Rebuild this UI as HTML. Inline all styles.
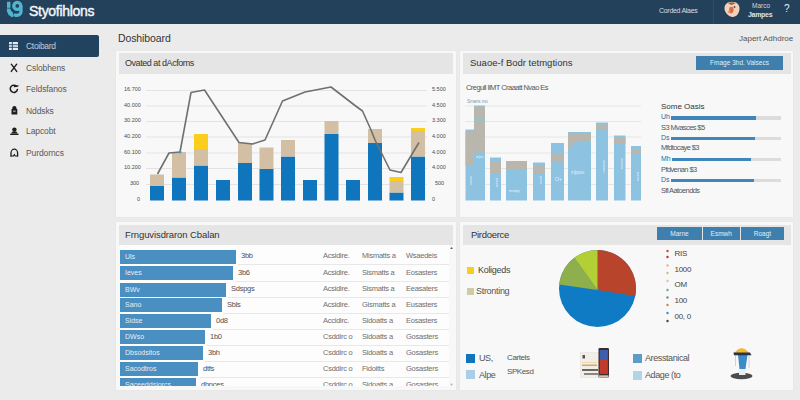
<!DOCTYPE html>
<html><head><meta charset="utf-8">
<style>
*{margin:0;padding:0;box-sizing:border-box}
html,body{width:800px;height:400px;overflow:hidden;background:#ebebeb;font-family:"Liberation Sans",sans-serif;color:#333}
.abs{position:absolute}
.t{position:absolute;white-space:nowrap;line-height:1}
.btn{position:absolute;background:#3f7fae;color:#e4edf5;font-size:6.5px;text-align:center;white-space:nowrap}
svg{position:absolute;left:0;top:0}
</style></head><body>
<div class="abs" style="left:0px;top:0px;width:800px;height:24px;background:#24415c;"></div>
<svg style="filter:blur(0.35px)" width="30" height="24" viewBox="0 0 30 24"><g fill="#50b5d0"><rect x="7" y="1.800" width="3.400" height="6"/><path d="M6.800 8.600L10.200 8.600L11.200 11L13 12.500L13.200 16.800L11.800 17.300L8.500 14.800L7 11.500z"/></g><g fill="none" stroke="#50b5d0" stroke-width="3.300" stroke-linecap="round"><circle cx="17.300" cy="5.900" r="3.500"/><path d="M21 6.500L21 11.500C21 14.500 18.500 15.800 15 15.200"/></g></svg>
<div class="t" style="left:29px;top:4px;font-size:14px;color:#f4f7fa;letter-spacing:-0.3px;-webkit-text-stroke:0.4px #f4f7fa">Styofihlons</div>
<div class="t" style="left:659px;top:7px;font-size:7px;color:#d5dde5;letter-spacing:-0.3px">Corded Alaes</div>
<div class="abs" style="left:713px;top:0px;width:1px;height:24px;background:#2e4c68;"></div>
<svg style="left:722px;filter:blur(0.4px)" width="20" height="20" viewBox="0 0 20 20"><path d="M10 1.700C14.500 1.700 17.800 4.500 17.500 9C17.200 13.500 14 17.200 10.500 17C7 16.800 3.200 13.500 2.500 9C2 4.500 5.500 1.700 10 1.700z" fill="#f1d2bb"/><path d="M6 3.500C8 1.800 12 1.800 13.500 3.500C12 3.200 11 5 9.500 5C8 5 7.500 3.500 6 3.500z" fill="#9a6a4a"/><path d="M7.500 7.500C9 6 11 6.500 11.500 8.500C12 11 10.500 13.500 9 13.500C7.500 13.500 6.500 10 7.500 7.500z" fill="#dd6a4a"/><circle cx="12.500" cy="7" r="1" fill="#7a4a35"/><circle cx="7" cy="12" r="1.200" fill="#e79a7a"/></svg>
<div class="t" style="left:752px;top:2.5px;font-size:6.5px;color:#cdd6de;">Marco</div>
<div class="t" style="left:748px;top:10.5px;font-size:7px;color:#dfe6ec;font-weight:bold;letter-spacing:-0.3px">Jampes</div>
<div class="t" style="left:784px;top:4px;font-size:10px;color:#e8eef3;">?</div>
<div class="abs" style="left:0px;top:34.5px;width:98.5px;height:22px;background:#22435f;border-radius:0 2px 2px 0"></div>
<svg style="left:9px;top:41.500px" width="9" height="8" viewBox="0 0 9 8"><rect width="9" height="8" rx="0.500" fill="#e8edf1"/><path d="M0 2.700h9M0 5.300h9M3.300 0v8" stroke="#22435f" stroke-width="0.900"/></svg>
<div class="t" style="left:26px;top:42px;font-size:8.5px;color:#c3ced8;letter-spacing:-0.3px">Ctoibard</div>
<div class="t" style="left:26px;top:64px;font-size:8.5px;color:#585858;letter-spacing:-0.1px">Cslobhens</div>
<div class="t" style="left:26px;top:85px;font-size:8.5px;color:#585858;letter-spacing:-0.1px">Feldsfanos</div>
<div class="t" style="left:26px;top:106.5px;font-size:8.5px;color:#585858;letter-spacing:-0.1px">Nddsks</div>
<div class="t" style="left:26px;top:127px;font-size:8.5px;color:#585858;letter-spacing:-0.1px">Lapcobt</div>
<div class="t" style="left:26px;top:148.5px;font-size:8.5px;color:#585858;letter-spacing:-0.1px">Purdorncs</div>
<svg style="filter:blur(0.3px)" width="30" height="170" viewBox="0 0 30 170">
 <g fill="none" stroke="#1e1e1e" stroke-width="1.400" stroke-linecap="round">
  <path d="M11.300 64.200L16.700 71.400M16.700 64.200L11.300 71.400"/>
  <path d="M16.500 86.300A3.600 3.600 0 1 0 17.400 89.500" stroke-width="1.500"/>
  <path d="M14.500 86.500L18 85.800" stroke-width="1.300"/>
  <path d="M11 156V153A3.300 3.800 0 0 1 17.600 153V156" stroke-width="1.300"/>
  <path d="M11 156H13.500L14.300 154.500L15.200 156H17.600" stroke-width="1.100"/>
 </g>
 <g fill="#1e1e1e">
  <path d="M12.300 109V108A2.100 2.100 0 0 1 16.500 108V109H17.300V114.500H11.500V109z"/>
  <circle cx="14.400" cy="129.600" r="2.200"/>
  <path d="M11.500 133.500Q11.500 131.300 14.400 131.300Q17.300 131.300 17.300 133.500z"/>
  <rect x="10.200" y="133.600" width="8.300" height="1.400"/>
 </g>
 <rect x="13.200" y="110.500" width="2.400" height="1.600" fill="#999"/>
</svg>
<div class="t" style="left:118px;top:33px;font-size:10.5px;color:#333;letter-spacing:-0.1px">Doshiboard</div>
<div class="t" style="left:739px;top:35px;font-size:8px;color:#555;">Japert Adhdroe</div>
<div class="abs" style="left:116px;top:51px;width:339.5px;height:165.5px;background:#f8f8f8;box-shadow:0 0 1px #dcdcdc"></div>
<div class="abs" style="left:118.5px;top:53px;width:334.5px;height:20.5px;background:#e5e5e5;"></div>
<div class="abs" style="left:459.5px;top:51px;width:333.5px;height:165.5px;background:#f8f8f8;box-shadow:0 0 1px #dcdcdc"></div>
<div class="abs" style="left:463px;top:53px;width:328px;height:20.5px;background:#e5e5e5;"></div>
<div class="abs" style="left:116px;top:222px;width:340px;height:168px;background:#f8f8f8;box-shadow:0 0 1px #dcdcdc"></div>
<div class="abs" style="left:118.5px;top:224.5px;width:334.5px;height:20.5px;background:#e5e5e5;"></div>
<div class="abs" style="left:459.5px;top:222px;width:333.5px;height:167.5px;background:#f8f8f8;box-shadow:0 0 1px #dcdcdc"></div>
<div class="abs" style="left:463px;top:224.5px;width:328px;height:20.5px;background:#e5e5e5;"></div>
<div class="t" style="left:125px;top:59px;font-size:9px;color:#333;letter-spacing:-0.45px">Ovated at dAcfoms</div>
<svg width="800" height="400" viewBox="0 0 800 400">
<path d="M146 90.5H427M146 106H427M146 121.5H427M146 137H427M146 153H427M146 168.5H427M146 184.5H427" stroke="#e3e3e3" stroke-width="1"/>
<rect x="150" y="186" width="14" height="14.5" fill="#0f75bc"/>
<rect x="150" y="174.5" width="14" height="11.5" fill="#d3bfa3"/>
<rect x="172" y="177.5" width="14" height="23.0" fill="#0f75bc"/>
<rect x="172" y="152" width="14" height="25.5" fill="#d3bfa3"/>
<rect x="194" y="165.5" width="14" height="35.0" fill="#0f75bc"/>
<rect x="194" y="149" width="14" height="16.5" fill="#d3bfa3"/>
<rect x="194" y="134" width="14" height="15" fill="#fbcd1c"/>
<rect x="216" y="180" width="14" height="20.5" fill="#0f75bc"/>
<rect x="238" y="163" width="14" height="37.5" fill="#0f75bc"/>
<rect x="238" y="143" width="14" height="20" fill="#d3bfa3"/>
<rect x="259.5" y="169" width="14" height="31.5" fill="#0f75bc"/>
<rect x="259.5" y="147.5" width="14" height="21.5" fill="#d3bfa3"/>
<rect x="281" y="156.5" width="14" height="44.0" fill="#0f75bc"/>
<rect x="281" y="140" width="14" height="16.5" fill="#d3bfa3"/>
<rect x="303" y="180" width="14" height="20.5" fill="#0f75bc"/>
<rect x="324.5" y="134" width="14" height="66.5" fill="#0f75bc"/>
<rect x="324.5" y="121" width="14" height="13" fill="#d3bfa3"/>
<rect x="346" y="180" width="14" height="20.5" fill="#0f75bc"/>
<rect x="368" y="143" width="14" height="57.5" fill="#0f75bc"/>
<rect x="368" y="129" width="14" height="14" fill="#d3bfa3"/>
<rect x="389.5" y="192.5" width="14" height="8.0" fill="#0f75bc"/>
<rect x="389.5" y="181" width="14" height="11.5" fill="#d3bfa3"/>
<rect x="389.5" y="177" width="14" height="4" fill="#fbcd1c"/>
<rect x="411" y="156.5" width="14" height="44.0" fill="#0f75bc"/>
<rect x="411" y="131" width="14" height="25.5" fill="#d3bfa3"/>
<rect x="411" y="128" width="14" height="3" fill="#fbcd1c"/>
<path d="M157.500 174L169 153L180 152L191 92.500L204.500 90L239 142.500L252.500 144L265 140L282.500 101L305 92L331 87L355 105.500L362.500 111L371 130L375 140L390 170L401 172.500L419 142.500" fill="none" stroke="#707070" stroke-width="1.600" stroke-linejoin="round"/>
<circle cx="180" cy="152" r="1.600" fill="#3aa0b8"/>
</svg>
<div class="t" style="left:124px;top:87px;font-size:5.5px;color:#4a4a4a;">16.700</div>
<div class="t" style="left:432px;top:87px;font-size:5.5px;color:#4a4a4a;">5.500</div>
<div class="t" style="left:124px;top:103px;font-size:5.5px;color:#4a4a4a;">40.000</div>
<div class="t" style="left:432px;top:103px;font-size:5.5px;color:#4a4a4a;">4.500</div>
<div class="t" style="left:124px;top:118px;font-size:5.5px;color:#4a4a4a;">30.200</div>
<div class="t" style="left:432px;top:118px;font-size:5.5px;color:#4a4a4a;">3.300</div>
<div class="t" style="left:124px;top:134px;font-size:5.5px;color:#4a4a4a;">40.200</div>
<div class="t" style="left:432px;top:134px;font-size:5.5px;color:#4a4a4a;">4.000</div>
<div class="t" style="left:124px;top:150px;font-size:5.5px;color:#4a4a4a;">60.100</div>
<div class="t" style="left:432px;top:150px;font-size:5.5px;color:#4a4a4a;">4.000</div>
<div class="t" style="left:124px;top:165px;font-size:5.5px;color:#4a4a4a;">10.200</div>
<div class="t" style="left:432px;top:165px;font-size:5.5px;color:#4a4a4a;">4.000</div>
<div class="t" style="left:130px;top:181px;font-size:5.5px;color:#4a4a4a;">300</div>
<div class="t" style="left:137px;top:197px;font-size:5.5px;color:#4a4a4a;">0</div>
<div class="t" style="left:435px;top:181px;font-size:5.5px;color:#4a4a4a;">500</div>
<div class="t" style="left:432px;top:197px;font-size:5.5px;color:#4a4a4a;">0</div>
<div class="t" style="left:470px;top:58px;font-size:9.5px;color:#333;">Suaoe-f Bodr tetmgtions</div>
<div class="btn" style="left:696px;top:56px;width:87px;height:13.500px;line-height:13.500px">Fmage 3hd. Valsecs</div>
<div class="t" style="left:466px;top:84px;font-size:7.5px;color:#555;letter-spacing:-0.55px">Cregull IlMT Craaatt Nvao Es</div>
<div class="t" style="left:467px;top:100px;font-size:4.5px;color:#7a9aa8;letter-spacing:-0.1px">Smans mo</div>
<svg width="800" height="400" viewBox="0 0 800 400">
<path d="M465 106H641M465 121.5H641M465 137H641M465 153H641M465 168.5H641M465 184.5H641" stroke="#e6e6e6" stroke-width="1"/>
<rect x="465.5" y="129.5" width="8.5" height="71.0" fill="#8dc3e1"/>
<rect x="474" y="105.5" width="11" height="95.0" fill="#8dc3e1"/>
<rect x="490" y="157.5" width="11" height="43.0" fill="#8dc3e1"/>
<rect x="506" y="161" width="21" height="39.5" fill="#8dc3e1"/>
<rect x="533" y="162.5" width="12" height="38.0" fill="#8dc3e1"/>
<rect x="551" y="143" width="13" height="57.5" fill="#8dc3e1"/>
<rect x="568" y="132" width="23" height="68.5" fill="#8dc3e1"/>
<rect x="596" y="122.5" width="12" height="78.0" fill="#8dc3e1"/>
<rect x="614" y="135.5" width="11.5" height="65.0" fill="#8dc3e1"/>
<rect x="631" y="146" width="10" height="54.5" fill="#8dc3e1"/>
<rect x="465.5" y="131" width="8.5" height="35" fill="#b9b6ae"/>
<rect x="474" y="106.5" width="11" height="11" fill="#b9b6ae"/>
<rect x="474" y="120" width="11" height="32.5" fill="#b9b6ae"/>
<rect x="490" y="161" width="11" height="13" fill="#b9b6ae"/>
<rect x="506" y="162" width="21" height="7.5" fill="#b9b6ae"/>
<rect x="533" y="166" width="12" height="8" fill="#b9b6ae"/>
<rect x="551" y="154" width="13" height="7" fill="#b9b6ae"/>
<rect x="596" y="124.5" width="12" height="4.5" fill="#b9b6ae"/>
<rect x="614" y="137.5" width="11.5" height="6.5" fill="#b9b6ae"/>
<rect x="631" y="149" width="10" height="5" fill="#b9b6ae"/>
<path d="M568 133H591V140.500L575 142L568 150z" fill="#b9b6ae"/>
</svg>
<div class="t" style="left:476px;top:156px;font-size:3.8px;color:#fff;color:#eef6fb;opacity:.85;letter-spacing:-0.2px">m|ss</div>
<div class="t" style="left:509px;top:189px;font-size:4px;color:#fff;color:#eef6fb;opacity:.85;letter-spacing:-0.2px">mwpty</div>
<div class="t" style="left:555px;top:177px;font-size:5.5px;color:#fff;color:#eef6fb;opacity:.85;letter-spacing:-0.2px">O+</div>
<div class="t" style="left:571px;top:170.5px;font-size:4.5px;color:#fff;color:#eef6fb;opacity:.85;letter-spacing:-0.2px">m|poss</div>
<div class="t" style="left:468px;top:176px;font-size:3.800px;color:#eef6fb;opacity:.8;writing-mode:vertical-rl">mosn</div>
<div class="t" style="left:494px;top:178px;font-size:3.800px;color:#eef6fb;opacity:.8;writing-mode:vertical-rl">posm</div>
<div class="t" style="left:538px;top:176px;font-size:3.800px;color:#eef6fb;opacity:.8;writing-mode:vertical-rl">poss</div>
<div class="t" style="left:601px;top:160px;font-size:3.800px;color:#eef6fb;opacity:.8;writing-mode:vertical-rl">moosm</div>
<div class="t" style="left:619px;top:158px;font-size:3.800px;color:#eef6fb;opacity:.8;writing-mode:vertical-rl">mosos</div>
<div class="t" style="left:635px;top:172px;font-size:3.800px;color:#eef6fb;opacity:.8;writing-mode:vertical-rl">posm</div>
<div class="t" style="left:661px;top:103px;font-size:8px;color:#333;">Some Oasis</div>
<div class="t" style="left:661px;top:124px;font-size:7.5px;color:#555;letter-spacing:-0.6px">S3 Mvasces $5</div>
<div class="t" style="left:661px;top:144px;font-size:7.5px;color:#555;letter-spacing:-0.6px">Mfdtocaye $3</div>
<div class="t" style="left:661px;top:165.5px;font-size:7.5px;color:#555;letter-spacing:-0.6px">Pfdvenan $3</div>
<div class="t" style="left:661px;top:187px;font-size:7.5px;color:#555;letter-spacing:-0.6px">Sfl Aatoendds</div>
<div class="abs" style="left:661px;top:116px;width:120px;height:3.5px;background:#dcdcdc;"></div>
<div class="abs" style="left:661px;top:116px;width:94.5px;height:3.5px;background:#3f86bb;"></div>
<div class="t" style="left:661px;top:113px;font-size:7px;color:#2c6a9c;background:#f8f8f8;padding-right:1px">Uh</div>
<div class="abs" style="left:661px;top:136.5px;width:120px;height:3.5px;background:#dcdcdc;"></div>
<div class="abs" style="left:661px;top:136.5px;width:94px;height:3.5px;background:#3f86bb;"></div>
<div class="t" style="left:661px;top:133.5px;font-size:7px;color:#2c6a9c;background:#f8f8f8;padding-right:1px">Ds</div>
<div class="abs" style="left:661px;top:157.5px;width:120px;height:3.5px;background:#dcdcdc;"></div>
<div class="abs" style="left:661px;top:157.5px;width:90px;height:3.5px;background:#3f86bb;"></div>
<div class="t" style="left:661px;top:154.5px;font-size:7px;color:#2c6a9c;background:#f8f8f8;padding-right:1px">Mh</div>
<div class="abs" style="left:661px;top:178.5px;width:120px;height:3.5px;background:#dcdcdc;"></div>
<div class="abs" style="left:661px;top:178.5px;width:93px;height:3.5px;background:#3f86bb;"></div>
<div class="t" style="left:661px;top:175.5px;font-size:7px;color:#2c6a9c;background:#f8f8f8;padding-right:1px">Ds</div>
<div class="t" style="left:125px;top:229.5px;font-size:9.5px;color:#333;letter-spacing:-0.1px">Frnguvisdraron Cbalan</div>
<div class="abs" style="left:120px;top:245px;width:328.5px;height:140.5px;background:#fdfdfd;"></div>
<div class="abs" style="left:120px;top:245px;width:334px;height:140.500px;overflow:hidden">
<div class="abs" style="left:0;top:4.5px;width:116px;height:14px;background:#4a8fc1"></div>
<div class="t" style="left:5px;top:7.8px;font-size:7px;color:#e4eef6;">Uls</div>
<div class="t" style="left:121px;top:7.3px;font-size:7.5px;color:#505050;letter-spacing:-0.25px">3bb</div>
<div class="t" style="left:203px;top:7.3px;font-size:7.5px;color:#6e6e6e;letter-spacing:-0.25px">Acsidire.</div>
<div class="t" style="left:242px;top:7.3px;font-size:7.5px;color:#6e6e6e;letter-spacing:-0.25px">Mismatts a</div>
<div class="t" style="left:286px;top:7.3px;font-size:7.5px;color:#6e6e6e;letter-spacing:-0.25px">Wsaedeis</div>
<div class="abs" style="left:118px;top:19.3px;width:210.5px;height:1px;background:#e8e8e8"></div>
<div class="abs" style="left:0;top:21px;width:113px;height:14px;background:#4a8fc1"></div>
<div class="t" style="left:5px;top:24.3px;font-size:7px;color:#e4eef6;">Ieves</div>
<div class="t" style="left:118px;top:23.8px;font-size:7.5px;color:#505050;letter-spacing:-0.25px">3b6</div>
<div class="t" style="left:203px;top:23.8px;font-size:7.5px;color:#6e6e6e;letter-spacing:-0.25px">Acsidire.</div>
<div class="t" style="left:242px;top:23.8px;font-size:7.5px;color:#6e6e6e;letter-spacing:-0.25px">Sismatts a</div>
<div class="t" style="left:286px;top:23.8px;font-size:7.5px;color:#6e6e6e;letter-spacing:-0.25px">Eosasters</div>
<div class="abs" style="left:115px;top:35.8px;width:213.5px;height:1px;background:#e8e8e8"></div>
<div class="abs" style="left:0;top:37.5px;width:106px;height:14px;background:#4a8fc1"></div>
<div class="t" style="left:5px;top:40.8px;font-size:7px;color:#e4eef6;">BWv</div>
<div class="t" style="left:111px;top:40.3px;font-size:7.5px;color:#505050;letter-spacing:-0.25px">Sdspgs</div>
<div class="t" style="left:203px;top:40.3px;font-size:7.5px;color:#6e6e6e;letter-spacing:-0.25px">Acsidire.</div>
<div class="t" style="left:242px;top:40.3px;font-size:7.5px;color:#6e6e6e;letter-spacing:-0.25px">Sismatts a</div>
<div class="t" style="left:286px;top:40.3px;font-size:7.5px;color:#6e6e6e;letter-spacing:-0.25px">Eeasaters</div>
<div class="abs" style="left:108px;top:52.3px;width:220.5px;height:1px;background:#e8e8e8"></div>
<div class="abs" style="left:0;top:53px;width:102px;height:14px;background:#4a8fc1"></div>
<div class="t" style="left:5px;top:56.3px;font-size:7px;color:#e4eef6;">Sano</div>
<div class="t" style="left:107px;top:55.8px;font-size:7.5px;color:#505050;letter-spacing:-0.25px">Sbls</div>
<div class="t" style="left:203px;top:55.8px;font-size:7.5px;color:#6e6e6e;letter-spacing:-0.25px">Acsidire.</div>
<div class="t" style="left:242px;top:55.8px;font-size:7.5px;color:#6e6e6e;letter-spacing:-0.25px">Gismatts a</div>
<div class="t" style="left:286px;top:55.8px;font-size:7.5px;color:#6e6e6e;letter-spacing:-0.25px">Eusasters</div>
<div class="abs" style="left:104px;top:67.8px;width:224.5px;height:1px;background:#e8e8e8"></div>
<div class="abs" style="left:0;top:69px;width:91px;height:14px;background:#4a8fc1"></div>
<div class="t" style="left:5px;top:72.3px;font-size:7px;color:#e4eef6;">Sidse</div>
<div class="t" style="left:96px;top:71.8px;font-size:7.5px;color:#505050;letter-spacing:-0.25px">0d8</div>
<div class="t" style="left:203px;top:71.8px;font-size:7.5px;color:#6e6e6e;letter-spacing:-0.25px">Accidirc.</div>
<div class="t" style="left:242px;top:71.8px;font-size:7.5px;color:#6e6e6e;letter-spacing:-0.25px">Sidoatts a</div>
<div class="t" style="left:286px;top:71.8px;font-size:7.5px;color:#6e6e6e;letter-spacing:-0.25px">Eosasters</div>
<div class="abs" style="left:93px;top:83.8px;width:235.5px;height:1px;background:#e8e8e8"></div>
<div class="abs" style="left:0;top:85px;width:85px;height:14px;background:#4a8fc1"></div>
<div class="t" style="left:5px;top:88.3px;font-size:7px;color:#e4eef6;">DWso</div>
<div class="t" style="left:90px;top:87.8px;font-size:7.5px;color:#505050;letter-spacing:-0.25px">1b0</div>
<div class="t" style="left:203px;top:87.8px;font-size:7.5px;color:#6e6e6e;letter-spacing:-0.25px">Csddirc o</div>
<div class="t" style="left:242px;top:87.8px;font-size:7.5px;color:#6e6e6e;letter-spacing:-0.25px">Sidoatts a</div>
<div class="t" style="left:286px;top:87.8px;font-size:7.5px;color:#6e6e6e;letter-spacing:-0.25px">Gosasters</div>
<div class="abs" style="left:87px;top:99.8px;width:241.5px;height:1px;background:#e8e8e8"></div>
<div class="abs" style="left:0;top:101px;width:83px;height:14px;background:#4a8fc1"></div>
<div class="t" style="left:5px;top:104.3px;font-size:7px;color:#e4eef6;">Dbsodsitos</div>
<div class="t" style="left:88px;top:103.8px;font-size:7.5px;color:#505050;letter-spacing:-0.25px">3bh</div>
<div class="t" style="left:203px;top:103.8px;font-size:7.5px;color:#6e6e6e;letter-spacing:-0.25px">Csddirc o</div>
<div class="t" style="left:242px;top:103.8px;font-size:7.5px;color:#6e6e6e;letter-spacing:-0.25px">Sidoatts a</div>
<div class="t" style="left:286px;top:103.8px;font-size:7.5px;color:#6e6e6e;letter-spacing:-0.25px">Gosasters</div>
<div class="abs" style="left:85px;top:115.8px;width:243.5px;height:1px;background:#e8e8e8"></div>
<div class="abs" style="left:0;top:117px;width:78px;height:14px;background:#4a8fc1"></div>
<div class="t" style="left:5px;top:120.3px;font-size:7px;color:#e4eef6;">Sacodtros</div>
<div class="t" style="left:83px;top:119.8px;font-size:7.5px;color:#505050;letter-spacing:-0.25px">dtfs</div>
<div class="t" style="left:203px;top:119.8px;font-size:7.5px;color:#6e6e6e;letter-spacing:-0.25px">Csddirc o</div>
<div class="t" style="left:242px;top:119.8px;font-size:7.5px;color:#6e6e6e;letter-spacing:-0.25px">Fidoitts</div>
<div class="t" style="left:286px;top:119.8px;font-size:7.5px;color:#6e6e6e;letter-spacing:-0.25px">Gosasters</div>
<div class="abs" style="left:80px;top:131.8px;width:248.5px;height:1px;background:#e8e8e8"></div>
<div class="abs" style="left:0;top:133px;width:76px;height:14px;background:#4a8fc1"></div>
<div class="t" style="left:5px;top:136.3px;font-size:7px;color:#e4eef6;">Saceeddsiorcs</div>
<div class="t" style="left:81px;top:135.8px;font-size:7.5px;color:#505050;letter-spacing:-0.25px">dhnces</div>
<div class="t" style="left:203px;top:135.8px;font-size:7.5px;color:#6e6e6e;letter-spacing:-0.25px">Csddirc o</div>
<div class="t" style="left:242px;top:135.8px;font-size:7.5px;color:#6e6e6e;letter-spacing:-0.25px">Sidoatts a</div>
<div class="t" style="left:286px;top:135.8px;font-size:7.5px;color:#6e6e6e;letter-spacing:-0.25px">Gosasters</div>
<div class="abs" style="left:78px;top:147.8px;width:250.5px;height:1px;background:#e8e8e8"></div>
</div>
<div class="t" style="left:449.5px;top:246px;font-size:4px;color:#555;">▲</div>
<div class="t" style="left:449.5px;top:383px;font-size:4px;color:#aaa;">▼</div>
<div class="t" style="left:471px;top:229.5px;font-size:9.5px;color:#333;letter-spacing:-0.3px">Pirdoerce</div>
<div class="btn" style="left:657px;top:227px;width:45px;height:13px;line-height:13px">Marne</div>
<div class="btn" style="left:703px;top:227px;width:36.5px;height:13px;line-height:13px">Esmwh</div>
<div class="btn" style="left:741px;top:227px;width:43px;height:13px;line-height:13px">Roagt</div>
<div class="abs" style="left:467px;top:267px;width:7px;height:7px;background:#fbcd1c;"></div>
<div class="t" style="left:478px;top:266px;font-size:9px;color:#444;letter-spacing:-0.3px">Koligeds</div>
<div class="abs" style="left:467px;top:287.5px;width:7px;height:7px;background:#cfcaa8;"></div>
<div class="t" style="left:476px;top:287px;font-size:9px;color:#555;letter-spacing:-0.3px">Stronting</div>
<svg width="800" height="400" viewBox="0 0 800 400">
 <g transform="translate(597.5,288.5)">
  <circle r="38.500" fill="#0f7bc4"/>
  <path d="M0 1.500L0 -38.500A38.500 38.500 0 0 1 37.760 7.500z" fill="#b9442c"/>
  <path d="M0 1.500L-38.290 -4A38.500 38.500 0 0 1 -23.170 -30.750z" fill="#8fae4c"/>
  <path d="M0 1.500L-23.170 -30.750A38.500 38.500 0 0 1 0 -38.500z" fill="#b2cf36"/>
 </g>
<circle cx="667.500" cy="251" r="1.200" fill="#d4452c"/>
<circle cx="667.500" cy="257" r="1.200" fill="#b3361f"/>
<circle cx="667.500" cy="265.5" r="1.200" fill="#e9b679"/>
<circle cx="667.500" cy="273" r="1.200" fill="#cdb98a"/>
<circle cx="667.500" cy="281" r="1.200" fill="#d8c79d"/>
<circle cx="667.500" cy="290" r="1.200" fill="#5aa9a3"/>
<circle cx="667.500" cy="297.5" r="1.200" fill="#4f9d8e"/>
<circle cx="667.500" cy="305" r="1.200" fill="#d98243"/>
<circle cx="667.500" cy="313" r="1.200" fill="#2f8fce"/>
<circle cx="667.500" cy="321" r="1.200" fill="#5b3a2c"/>
</svg>
<div class="t" style="left:674.5px;top:250px;font-size:8px;color:#444;letter-spacing:-0.3px">RIS</div>
<div class="t" style="left:674.5px;top:265.5px;font-size:8px;color:#444;letter-spacing:-0.3px">1000</div>
<div class="t" style="left:674.5px;top:281px;font-size:8px;color:#444;letter-spacing:-0.3px">OM</div>
<div class="t" style="left:674.5px;top:296.5px;font-size:8px;color:#444;letter-spacing:-0.3px">100</div>
<div class="t" style="left:674.5px;top:313px;font-size:8px;color:#444;letter-spacing:-0.3px">00, 0</div>
<div class="abs" style="left:466px;top:354px;width:8.5px;height:8.5px;background:#0f75bc;"></div>
<div class="t" style="left:479px;top:353.5px;font-size:9px;color:#555;letter-spacing:-0.4px">US,</div>
<div class="t" style="left:507px;top:354px;font-size:8px;color:#555;letter-spacing:-0.4px">Cartels</div>
<div class="abs" style="left:466px;top:370px;width:8.5px;height:9px;background:#a9cfe6;"></div>
<div class="t" style="left:479px;top:370.5px;font-size:9px;color:#555;letter-spacing:-0.4px">Alpe</div>
<div class="t" style="left:507px;top:368px;font-size:8px;color:#555;letter-spacing:-0.4px">SPKesd</div>
<div class="abs" style="left:633px;top:354px;width:8.5px;height:8.5px;background:#5d9cc6;"></div>
<div class="t" style="left:645px;top:353.5px;font-size:9px;color:#555;letter-spacing:-0.4px">Aresstanical</div>
<div class="abs" style="left:633px;top:371px;width:8.5px;height:8.5px;background:#b3d3e6;"></div>
<div class="t" style="left:645px;top:370.5px;font-size:9px;color:#555;letter-spacing:-0.4px">Adage (to</div>
<svg style="filter:blur(0.3px)" width="800" height="400" viewBox="0 0 800 400">
 <g>
  <rect x="580.500" y="352.500" width="18.500" height="25" fill="#f1eee8" stroke="#e2dfd8" stroke-width="0.500"/>
  <rect x="582.500" y="355" width="2.500" height="3.500" fill="#55514d"/>
  <rect x="582" y="362" width="15" height="1" fill="#ead9b8"/>
  <rect x="582" y="364.500" width="15" height="1.500" fill="#e3a35e"/>
  <rect x="582" y="369" width="16" height="2" fill="#6a6763"/>
  <rect x="584" y="373" width="14" height="2" fill="#8a8782"/>
  <rect x="598.500" y="348" width="10.500" height="29.500" rx="1.200" fill="#3d2c2b"/>
  <rect x="599.700" y="350" width="8.200" height="10" fill="#3c60ae"/>
  <rect x="599.700" y="360" width="8.200" height="14" fill="#c03a2d"/>
  <rect x="599" y="375.300" width="9.500" height="2" fill="#d9c4b4"/>
 </g>
 <g>
  <ellipse cx="741.500" cy="376" rx="11" ry="3.200" fill="#4c4c4e"/>
  <rect x="739" y="366" width="6.500" height="9" fill="#e9eef2"/>
  <path d="M738 355H747.500L745.500 369H739.500z" fill="#3b8bc9"/>
  <path d="M735.500 354V366M749 354V368" stroke="#c8c8c8" stroke-width="0.800"/>
  <path d="M734 353.500Q741.500 343 749.500 353.500z" fill="#f2b928"/>
  <path d="M733.500 352.500H750L751.500 355.300H734z" fill="#27344f"/>
 </g>
</svg>
</body></html>
